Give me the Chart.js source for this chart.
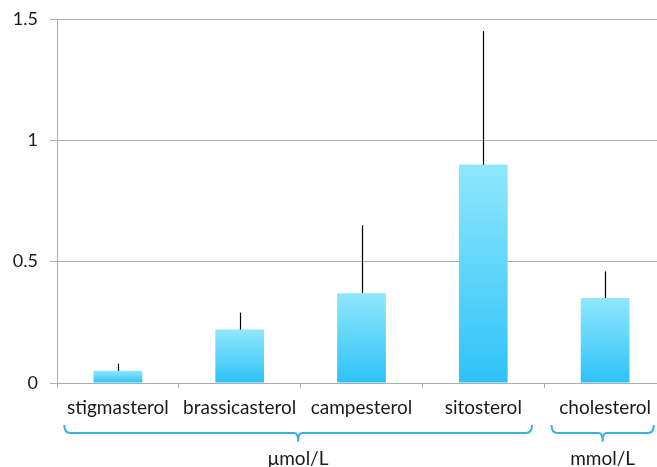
<!DOCTYPE html>
<html>
<head>
<meta charset="utf-8">
<script src="https://cdn.jsdelivr.net/npm/chart.js@4/dist/chart.umd.min.js"></script>
<style>
  html, body { margin: 0; padding: 0; background: #ffffff; overflow: hidden; width: 657px; height: 467px; }
  canvas { display: block; }
</style>
</head>
<body>
<canvas id="c" width="680" height="467"></canvas>
<script>
// ---- data ----
const categories = ['stigmasterol', 'brassicasterol', 'campesterol', 'sitosterol', 'cholesterol'];
const values = [0.05, 0.22, 0.37, 0.90, 0.35];
const errors = [0.03, 0.07, 0.28, 0.55, 0.11];
const yTicks = [0, 0.5, 1, 1.5];
const groups = [
  { label: 'μmol/L', from: 0, to: 3 },
  { label: 'mmol/L', from: 4, to: 4 }
];

const FONT = 'Lato, "Open Sans", sans-serif';
const GRID = '#a6b0ae';

function barGradient(ctx) {
  const chart = ctx.chart;
  if (!chart.chartArea || ctx.raw === undefined) return '#5fd3f9';
  const y = chart.scales.y;
  const top = y.getPixelForValue(ctx.raw);
  const bot = y.getPixelForValue(0);
  const g = chart.ctx.createLinearGradient(0, top, 0, bot);
  g.addColorStop(0, '#90e7fc');
  g.addColorStop(1, '#2dc2f8');
  return g;
}

const errorBars = {
  id: 'errorBars',
  afterDatasetsDraw(chart) {
    const c = chart.ctx;
    const meta = chart.getDatasetMeta(0);
    const y = chart.scales.y;
    c.save();
    c.strokeStyle = '#000000';
    c.lineWidth = 1.2;
    meta.data.forEach((bar, i) => {
      const x = Math.round(bar.x) + 0.5;
      c.beginPath();
      c.moveTo(x, y.getPixelForValue(values[i]));
      c.lineTo(x, y.getPixelForValue(values[i] + errors[i]));
      c.stroke();
    });
    c.restore();
  }
};

const brackets = {
  id: 'brackets',
  afterDraw(chart) {
    const c = chart.ctx;
    const x = chart.scales.x;
    const w = x.getPixelForValue(1) - x.getPixelForValue(0);
    const yTop = 425, yLine = 433, yTip = 441;
    c.save();
    c.strokeStyle = '#3bb2dc';
    c.lineWidth = 2;
    c.lineJoin = 'round';
    groups.forEach(gr => {
      const left = x.getPixelForValue(gr.from) - 0.44 * w;
      const right = x.getPixelForValue(gr.to) + 0.40 * w;
      const mid = (left + right) / 2;
      c.beginPath();
      c.moveTo(left, yTop);
      c.quadraticCurveTo(left, yLine, left + 6, yLine);
      c.lineTo(mid - 4, yLine);
      c.quadraticCurveTo(mid, yLine, mid, yTip);
      c.quadraticCurveTo(mid, yLine, mid + 4, yLine);
      c.lineTo(right - 6, yLine);
      c.quadraticCurveTo(right, yLine, right, yTop);
      c.stroke();
      c.fillStyle = '#1a1a1a';
      c.font = '19px ' + FONT;
      c.textAlign = 'center';
      c.textBaseline = 'middle';
      c.fillText(gr.label, mid, 459);
    });
    c.restore();
  }
};

new Chart(document.getElementById('c'), {
  type: 'bar',
  data: {
    labels: categories,
    datasets: [{
      data: values,
      backgroundColor: barGradient,
      borderWidth: 0,
      barPercentage: 0.4,
      categoryPercentage: 1.0
    }]
  },
  options: {
    responsive: false,
    animation: false,
    devicePixelRatio: 1,
    layout: { padding: { top: 19, right: 14, left: 0, bottom: 0 } },
    plugins: { legend: { display: false }, tooltip: { enabled: false } },
    scales: {
      x: {
        offset: true,
        grid: { offset: true, drawOnChartArea: false, color: GRID, tickLength: 5, drawTicks: true },
        border: { color: GRID, width: 1 },
        ticks: { color: '#1a1a1a', font: { family: FONT, size: 19 }, padding: 8, maxRotation: 0, autoSkip: false },
        afterFit(scale) { scale.height = 84; scale.paddingLeft = 0; scale.paddingRight = 0; }
      },
      y: {
        min: 0, max: 1.5,
        afterBuildTicks(scale) { scale.ticks = yTicks.map(v => ({ value: v })); },
        grid: { color: GRID, tickLength: 7, drawTicks: true },
        border: { color: GRID, width: 1 },
        ticks: {
          color: '#1a1a1a', font: { family: FONT, size: 18 }, padding: 12,
          callback: v => String(v)
        },
        afterFit(scale) { scale.width = 57; scale.paddingTop = 0; scale.paddingBottom = 0; }
      }
    }
  },
  plugins: [errorBars, brackets]
});
</script>
</body>
</html>
